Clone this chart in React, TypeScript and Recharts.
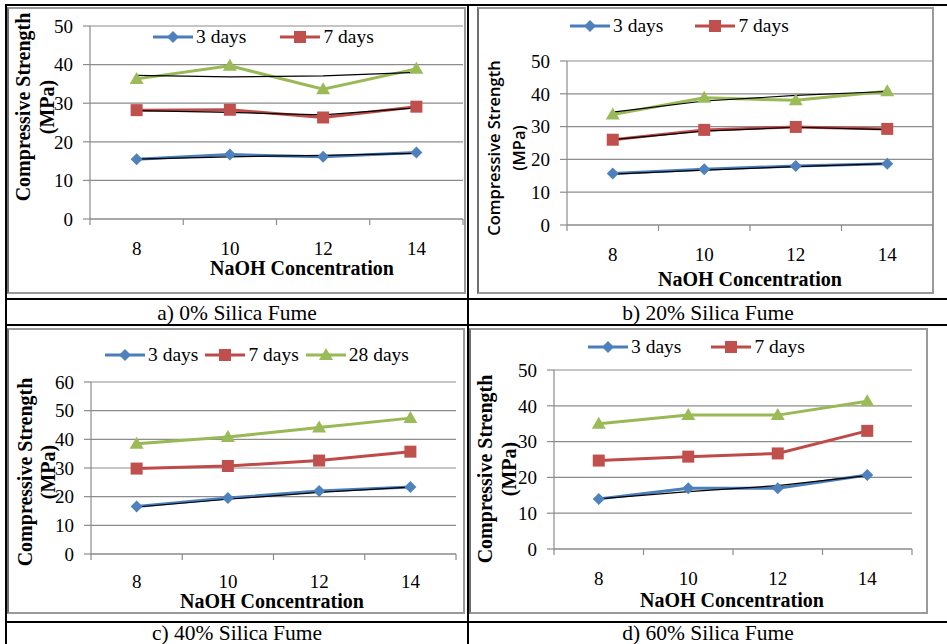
import React from "react";
import { LineChart, Line, XAxis, YAxis, CartesianGrid, Legend } from "recharts";

// NaOH concentration (M) on the x axis
const concentration = [8, 10, 12, 14];
const labelTicks = [8, 10, 12, 14];
const yTicks50 = [0, 10, 20, 30, 40, 50];
const yTicks60 = [0, 10, 20, 30, 40, 50, 60];

// a) 0% silica fume
const a3 = [15.5, 16.7, 16.1, 17.2];
const a7 = [28.2, 28.3, 26.3, 29.1];
const a28 = [36.3, 39.7, 33.6, 38.9];
const a3Trend = [15.5, 16.1, 16.5, 17.0];
const a7Trend = [28.1, 27.6, 27.0, 28.8];
const a28Trend = [37.2, 36.8, 37.1, 38.0];

// b) 20% silica fume
const b3 = [15.7, 17.0, 18.0, 18.7];
const b7 = [26.0, 29.0, 29.9, 29.3];
const b28 = [33.7, 38.8, 38.0, 40.8];
const b3Trend = [15.5, 16.7, 17.8, 18.7];
const b7Trend = [26.0, 28.6, 29.8, 29.1];
const b28Trend = [34.4, 37.8, 39.5, 40.7];

// c) 40% silica fume
const c3 = [16.6, 19.5, 22.0, 23.4];
const c7 = [29.8, 30.7, 32.6, 35.7];
const c28 = [38.5, 40.8, 44.1, 47.4];
const c3Trend = [16.4, 19.1, 21.5, 23.3];

// d) 60% silica fume
const d3 = [14.0, 17.0, 17.0, 20.7];
const d7 = [24.7, 25.8, 26.7, 33.0];
const d28 = [35.0, 37.4, 37.4, 41.3];
const d3Trend = [14.0, 16.0, 17.7, 20.5];

const SERIF = "'Liberation Serif', 'DejaVu Serif', serif";
const SANS = "'Open Sans', 'Noto Sans', sans-serif";
const GRID = "#8c8c8c";

const SERIES: Record<string, { color: string; fill: string; shape: string }> = {
  "3 days": { color: "#4A7EBB", fill: "#4F81BD", shape: "diamond" },
  "7 days": { color: "#BE4B48", fill: "#C0504D", shape: "square" },
  "28 days": { color: "#98B954", fill: "#9BBB59", shape: "triangle" },
};

function Marker({ shape, cx, cy, fill }: { shape: string; cx: number; cy: number; fill: string }) {
  if (shape === "diamond")
    return <path d={`M${cx} ${cy - 6}L${cx + 6} ${cy}L${cx} ${cy + 6}L${cx - 6} ${cy}Z`} fill={fill} />;
  if (shape === "square") return <rect x={cx - 6} y={cy - 6} width={12} height={12} fill={fill} />;
  return <path d={`M${cx} ${cy - 7}L${cx + 7} ${cy + 5}L${cx - 7} ${cy + 5}Z`} fill={fill} />;
}

type PanelLayout = {
  left: number;
  top: number;
  width: number;
  height: number;
  margin: { top: number; right: number; bottom: number; left: number };
  yWidth: number;
  yMax: number;
  yTicks: number[];
  yTitleFont: string;
  yTitleSize: number;
  yTitleWeight: number;
  yTitleX: number;
  mpaX: number;
  yTitleY: number;
  xTickOffset: number;
  xTitleX: number;
  xTitleY: number;
  legendTop: number;
  legendLeft: number;
  legendGap: number;
  legendNames: string[];
};

type Row = { x: number; [k: string]: number };

function buildRows(s3: number[], s7: number[], s28: number[], trends: Record<string, number[]>): Row[] {
  return concentration.map((x, i) => {
    const row: Row = { x, "3 days": s3[i], "7 days": s7[i], "28 days": s28[i] };
    Object.keys(trends).forEach((k) => (row[k] = trends[k][i]));
    return row;
  });
}

const X_AXIS_H = 30;

function Panel({ layout, rows, trendKeys }: { layout: PanelLayout; rows: Row[]; trendKeys: string[] }) {
  const plotW = layout.width - layout.margin.left - layout.margin.right - layout.yWidth;
  const half = plotW / 8; // tick marks sit between categories, Excel style

  const xTick = (props: any) => {
    const { x, y, payload, index } = props;
    return (
      <g>
        <line x1={x - half} y1={y} x2={x - half} y2={y + 6} stroke={GRID} strokeWidth={1.2} />
        {index === labelTicks.length - 1 && (
          <line x1={x + half} y1={y} x2={x + half} y2={y + 6} stroke={GRID} strokeWidth={1.2} />
        )}
        <text
          x={x}
          y={y + layout.xTickOffset}
          textAnchor="middle"
          dominantBaseline="central"
          fontFamily={SERIF}
          fontSize={19}
          fill="#000"
        >
          {payload.value}
        </text>
      </g>
    );
  };

  const legendContent = (props: any) => {
    const payload = props.payload || [];
    const items = layout.legendNames.filter((n) => payload.some((p: any) => p.value === n));
    return (
      <div style={{ display: "flex", alignItems: "center", gap: layout.legendGap, whiteSpace: "nowrap" }}>
        {items.map((name) => {
          const s = SERIES[name];
          return (
            <div key={name} style={{ display: "flex", alignItems: "center", height: 22 }}>
              <svg width={40} height={16} style={{ display: "block" }}>
                <line x1={0} y1={8} x2={40} y2={8} stroke={s.color} strokeWidth={3} />
                <Marker shape={s.shape} cx={20} cy={8} fill={s.fill} />
              </svg>
              <span style={{ marginLeft: 3, fontFamily: SERIF, fontSize: 19.5, color: "#000" }}>{name}</span>
            </div>
          );
        })}
      </div>
    );
  };

  const yTitle = () => (
    <g>
      <text
        transform={`translate(${layout.yTitleX},${layout.yTitleY}) rotate(-90)`}
        textAnchor="middle"
        dominantBaseline="central"
        fontFamily={layout.yTitleFont}
        fontSize={layout.yTitleSize}
        fontWeight={layout.yTitleWeight}
        fill="#000"
      >
        Compressive Strength
      </text>
      <text
        transform={`translate(${layout.mpaX},${layout.yTitleY}) rotate(-90)`}
        textAnchor="middle"
        dominantBaseline="central"
        fontFamily={layout.yTitleFont}
        fontSize={layout.yTitleSize}
        fontWeight={layout.yTitleWeight}
        fill="#000"
      >
        (MPa)
      </text>
    </g>
  );

  const xTitle = () => (
    <text
      x={layout.xTitleX}
      y={layout.xTitleY}
      textAnchor="middle"
      dominantBaseline="central"
      fontFamily={SERIF}
      fontSize={20}
      fontWeight="bold"
      fill="#000"
    >
      NaOH Concentration
    </text>
  );

  return (
    <div style={{ position: "absolute", left: layout.left, top: layout.top }}>
      <LineChart
        width={layout.width}
        height={layout.height}
        data={rows}
        margin={{ ...layout.margin, bottom: layout.margin.bottom - X_AXIS_H }}
      >
        <CartesianGrid vertical={false} stroke={GRID} strokeWidth={1.2} />
        <XAxis
          dataKey="x"
          type="number"
          domain={[7, 15]}
          ticks={labelTicks}
          interval={0}
          height={X_AXIS_H}
          tickSize={0}
          tickMargin={0}
          axisLine={{ stroke: GRID, strokeWidth: 1.2 }}
          tickLine={false}
          tick={xTick}
          label={xTitle as any}
        />
        <YAxis
          type="number"
          domain={[0, layout.yMax]}
          ticks={layout.yTicks}
          interval={0}
          width={layout.yWidth}
          tickSize={7}
          tickMargin={10}
          tickLine={{ stroke: GRID, strokeWidth: 1.2 }}
          axisLine={{ stroke: GRID, strokeWidth: 1.2 }}
          tick={{ fill: "#000", fontSize: 19, fontFamily: SERIF }}
          label={yTitle as any}
        />
        <Legend
          layout="vertical"
          align="center"
          verticalAlign="middle"
          content={legendContent}
          wrapperStyle={{ top: layout.legendTop, left: layout.legendLeft, width: "auto", height: 22 }}
        />
        {["3 days", "7 days", "28 days"].map((name) => {
          const s = SERIES[name];
          return (
            <Line
              key={name}
              type="linear"
              dataKey={name}
              name={name}
              stroke={s.color}
              strokeWidth={3}
              isAnimationActive={false}
              dot={(p: any) => <Marker key={`${name}-${p.index}`} shape={s.shape} cx={p.cx} cy={p.cy} fill={s.fill} />}
              activeDot={false}
            />
          );
        })}
        {trendKeys.map((k) => (
          <Line
            key={k}
            type="linear"
            dataKey={k}
            stroke="#000"
            strokeWidth={1.2}
            dot={false}
            activeDot={false}
            legendType="none"
            isAnimationActive={false}
          />
        ))}
      </LineChart>
    </div>
  );
}

const layoutA: PanelLayout = {
  left: 8, top: 8, width: 456, height: 284,
  margin: { top: 18, right: 1, bottom: 73, left: 0 },
  yWidth: 82, yMax: 50, yTicks: yTicks50,
  yTitleFont: SERIF, yTitleSize: 20, yTitleWeight: 700, yTitleX: 15, mpaX: 39, yTitleY: 99,
  xTickOffset: 29, xTitleX: 294, xTitleY: 260,
  legendTop: 18, legendLeft: 145, legendGap: 34, legendNames: ["3 days", "7 days"],
};

const layoutB: PanelLayout = {
  left: 479, top: 8, width: 454, height: 284,
  margin: { top: 53, right: 0, bottom: 67, left: 0 },
  yWidth: 88, yMax: 50, yTicks: yTicks50,
  yTitleFont: SANS, yTitleSize: 16.5, yTitleWeight: 600, yTitleX: 14, mpaX: 39, yTitleY: 140,
  xTickOffset: 29, xTitleX: 271, xTitleY: 271,
  legendTop: 7, legendLeft: 91, legendGap: 32, legendNames: ["3 days", "7 days"],
};

const layoutC: PanelLayout = {
  left: 8, top: 330, width: 455, height: 282,
  margin: { top: 52, right: 7, bottom: 58, left: 0 },
  yWidth: 83, yMax: 60, yTicks: yTicks60,
  yTitleFont: SERIF, yTitleSize: 20, yTitleWeight: 700, yTitleX: 17, mpaX: 40, yTitleY: 142,
  xTickOffset: 27, xTitleX: 264, xTitleY: 271,
  legendTop: 14, legendLeft: 97, legendGap: 7, legendNames: ["3 days", "7 days", "28 days"],
};

const layoutD: PanelLayout = {
  left: 471, top: 330, width: 455, height: 282,
  margin: { top: 40, right: 14, bottom: 63, left: 0 },
  yWidth: 83, yMax: 50, yTicks: yTicks50,
  yTitleFont: SERIF, yTitleSize: 20, yTitleWeight: 700, yTitleX: 14, mpaX: 38, yTitleY: 139,
  xTickOffset: 29, xTitleX: 261, xTitleY: 270,
  legendTop: 6, legendLeft: 117, legendGap: 30, legendNames: ["3 days", "7 days"],
};

const rowsA = buildRows(a3, a7, a28, { t3: a3Trend, t7: a7Trend, t28: a28Trend });
const rowsB = buildRows(b3, b7, b28, { t3: b3Trend, t7: b7Trend, t28: b28Trend });
const rowsC = buildRows(c3, c7, c28, { t3: c3Trend });
const rowsD = buildRows(d3, d7, d28, { t3: d3Trend });

const hLine = (top: number) => (
  <div style={{ position: "absolute", left: 6, top, width: 941, height: 2, background: "#000" }} />
);
const vLine = (left: number) => (
  <div style={{ position: "absolute", left, top: 4, width: 2, height: 640, background: "#000" }} />
);
const frame = (left: number, top: number, width: number, height: number) => (
  <div
    style={{
      position: "absolute", left, top, width, height, boxSizing: "border-box",
      border: "2px solid #9a9a9a", borderLeftColor: "#6f6f6f",
    }}
  />
);
const caption = (text: string, left: number, width: number, top: number) => (
  <div
    style={{
      position: "absolute", left, top, width, textAlign: "center",
      fontFamily: SERIF, fontSize: 21.5, lineHeight: "24px", color: "#000",
    }}
  >
    {text}
  </div>
);

export default function App() {
  return (
    <div style={{ position: "absolute", left: 0, top: 0, width: 947, height: 644, background: "#fff", overflow: "hidden" }}>
      {hLine(4)}
      {hLine(298)}
      {hLine(324)}
      {hLine(621)}
      {vLine(5)}
      {vLine(467)}
      {frame(7, 7, 459, 287)}
      {frame(477, 7, 457, 287)}
      {frame(7, 328, 458, 286)}
      {frame(469, 328, 459, 286)}
      <Panel layout={layoutA} rows={rowsA} trendKeys={["t3", "t7", "t28"]} />
      <Panel layout={layoutB} rows={rowsB} trendKeys={["t3", "t7", "t28"]} />
      <Panel layout={layoutC} rows={rowsC} trendKeys={["t3"]} />
      <Panel layout={layoutD} rows={rowsD} trendKeys={["t3"]} />
      {caption("a) 0% Silica Fume", 6, 462, 301)}
      {caption("b) 20% Silica Fume", 469, 478, 301)}
      {caption("c) 40% Silica Fume", 6, 462, 621)}
      {caption("d) 60% Silica Fume", 469, 478, 621)}
    </div>
  );
}
